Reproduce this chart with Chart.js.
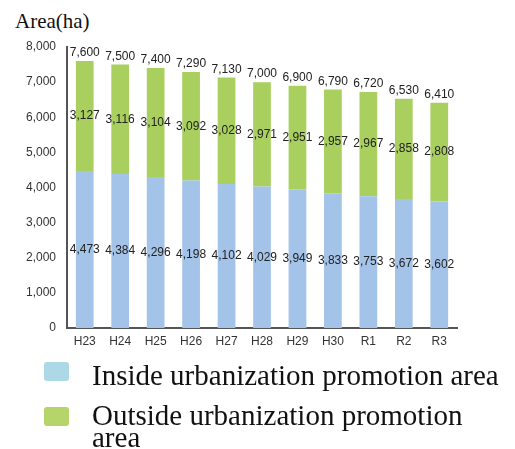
<!DOCTYPE html>
<html>
<head>
<meta charset="utf-8">
<script src="https://cdn.jsdelivr.net/npm/chart.js@4.4.1/dist/chart.umd.min.js"></script>
<style>
    body { margin: 0; background: #fff; }
    #wrap { position: relative; width: 515px; height: 449px; overflow: hidden; }
    #chart-box { position: absolute; left: 0; top: 0; width: 515px; height: 360px; }
    .axis-title {
        position: absolute; left: 15px; top: 11px;
        font-family: "Liberation Serif", serif; font-size: 21px; line-height: 21px; color: #111;
    }
    .legend-box { position: absolute; left: 44px; width: 25px; height: 19px; border-radius: 3px; }
    .legend-text {
        position: absolute; left: 92px; width: 420px;
        font-family: "Liberation Serif", serif; font-size: 29px; line-height: 22px; color: #111;
    }
</style>
</head>
<body>
<div id="wrap">
    <div class="axis-title">Area(ha)</div>
    <div id="chart-box"><canvas id="areaChart"></canvas></div>
    <div class="legend-box" id="legend-inside" style="top:362px"></div>
    <div class="legend-text" style="top:364px">Inside urbanization promotion area</div>
    <div class="legend-box" id="legend-outside" style="top:407px"></div>
    <div class="legend-text" style="top:404px">Outside urbanization promotion<br>area</div>
</div>
<script>
// Data
const years = ['H23', 'H24', 'H25', 'H26', 'H27', 'H28', 'H29', 'H30', 'R1', 'R2', 'R3'];
const insideArea = [4473, 4384, 4296, 4198, 4102, 4029, 3949, 3833, 3753, 3672, 3602];
const outsideArea = [3127, 3116, 3104, 3092, 3028, 2971, 2951, 2957, 2967, 2858, 2808];
const totalArea = [7600, 7500, 7400, 7290, 7130, 7000, 6900, 6790, 6720, 6530, 6410];
const yTicks = [0, 1000, 2000, 3000, 4000, 5000, 6000, 7000, 8000];

// Colors
const colors = {
    insideBar: '#a4c3e8',
    outsideBar: '#a9d05f',
    insideLegend: '#add8e6',
    outsideLegend: '#b5d56a',
    axis: '#555555',
    text: '#222222'
};

document.getElementById('legend-inside').style.background = colors.insideLegend;
document.getElementById('legend-outside').style.background = colors.outsideLegend;

const fmt = v => v.toLocaleString('en-US');

// Draw the value labels on each segment and the total above each bar
const valueLabels = {
    id: 'valueLabels',
    afterDatasetsDraw(chart) {
        const ctx = chart.ctx;
        ctx.save();
        ctx.font = '12px "Liberation Sans", Arial, sans-serif';
        ctx.fillStyle = colors.text;
        ctx.textAlign = 'center';
        ctx.textBaseline = 'middle';
        chart.data.datasets.forEach((ds, i) => {
            chart.getDatasetMeta(i).data.forEach((bar, j) => {
                ctx.fillText(fmt(ds.data[j]), bar.x, (bar.y + bar.base) / 2);
            });
        });
        const top = chart.getDatasetMeta(1).data;
        top.forEach((bar, j) => {
            const y = chart.scales.y.getPixelForValue(totalArea[j]);
            ctx.fillText(fmt(totalArea[j]), bar.x, y - 8);
        });
        ctx.restore();
    }
};

const ctx = document.getElementById('areaChart').getContext('2d');
const areaChart = new Chart(ctx, {
    type: 'bar',
    data: {
        labels: years,
        datasets: [
            { label: 'Inside urbanization promotion area', data: insideArea, backgroundColor: colors.insideBar },
            { label: 'Outside urbanization promotion area', data: outsideArea, backgroundColor: colors.outsideBar }
        ]
    },
    options: {
        responsive: true,
        maintainAspectRatio: false,
        animation: false,
        layout: { padding: { top: 47, right: 58, bottom: 0, left: 0 } },
        datasets: { bar: { categoryPercentage: 1, barPercentage: 0.5 } },
        plugins: {
            legend: { display: false },
            tooltip: { enabled: false }
        },
        scales: {
            x: {
                stacked: true,
                grid: { display: false, drawTicks: false },
                border: { display: true, color: colors.axis, width: 2 },
                ticks: {
                    color: '#333',
                    padding: 6,
                    font: { family: '"Liberation Sans", Arial, sans-serif', size: 12 }
                },
                afterFit(scale) { scale.height = 32; }
            },
            y: {
                stacked: true,
                min: 0,
                max: 8000,
                afterBuildTicks(scale) { scale.ticks = yTicks.map(v => ({ value: v })); },
                grid: { display: false, drawTicks: false },
                border: { display: true, color: colors.axis, width: 2 },
                ticks: {
                    color: '#333',
                    padding: 11,
                    font: { family: '"Liberation Sans", Arial, sans-serif', size: 12 },
                    callback: v => fmt(v)
                },
                afterFit(scale) { scale.width = 67; }
            }
        }
    },
    plugins: [valueLabels]
});
</script>
</body>
</html>
